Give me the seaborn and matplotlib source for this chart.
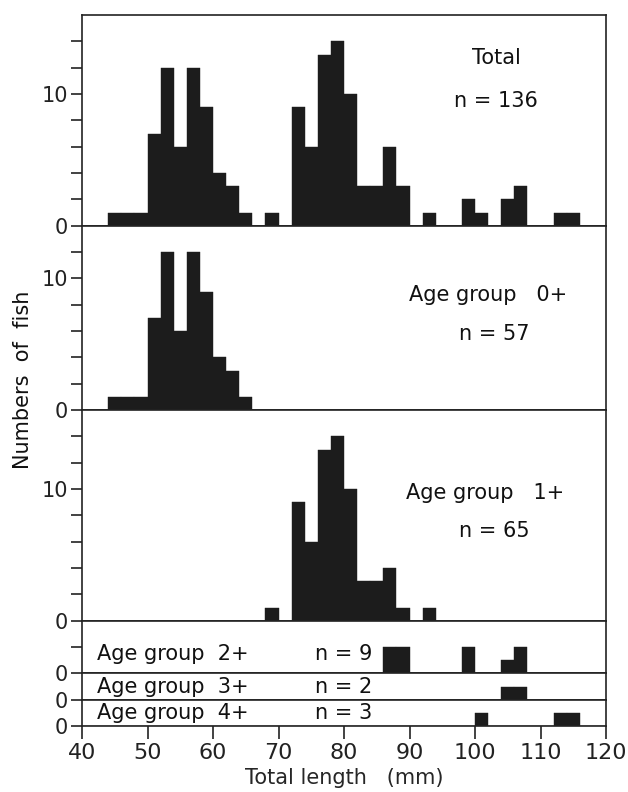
import numpy as np
import pandas as pd
import matplotlib
matplotlib.use("Agg")
import matplotlib.pyplot as plt
import seaborn as sns

# ---- data (bin start in mm, 2 mm bins) ----
total_start = [44, 46, 48, 50, 52, 54, 56, 58, 60, 62, 64, 68, 72, 74, 76, 78, 80, 82, 84, 86, 88, 92, 98, 100, 104, 106, 112, 114]
total_count = [1, 1, 1, 7, 12, 6, 12, 9, 4, 3, 1, 1, 9, 6, 13, 14, 10, 3, 3, 6, 3, 1, 2, 1, 2, 3, 1, 1]

age0_start = [44, 46, 48, 50, 52, 54, 56, 58, 60, 62, 64]
age0_count = [1, 1, 1, 7, 12, 6, 12, 9, 4, 3, 1]

age1_start = [68, 72, 74, 76, 78, 80, 82, 84, 86, 88, 92]
age1_count = [1, 9, 6, 13, 14, 10, 3, 3, 4, 1, 1]

age2_start = [86, 88, 98, 104, 106]
age2_count = [2, 2, 2, 1, 2]

age3_start = [104, 106]
age3_count = [1, 1]

age4_start = [100, 112, 114]
age4_count = [1, 1, 1]

bin_width = 2
x_ticks = [40, 50, 60, 70, 80, 90, 100, 110, 120]

sns.set_theme(style="ticks")
plt.rcParams["font.family"] = ["DejaVu Sans"]

fig = plt.figure(figsize=(6.28, 7.92), dpi=100)
ylims = [16, 14, 16, 4, 2, 2]
gs = fig.add_gridspec(6, 1, height_ratios=ylims, hspace=0,
                      left=0.1306, right=0.9650, top=0.981, bottom=0.0833)
axes = [fig.add_subplot(gs[i]) for i in range(6)]

groups = [
    (total_start, total_count),
    (age0_start, age0_count),
    (age1_start, age1_count),
    (age2_start, age2_count),
    (age3_start, age3_count),
    (age4_start, age4_count),
]
bar_color = "#1c1c1c"

for ax, (starts, counts), ylim in zip(axes, groups, ylims):
    df = pd.DataFrame({"mid": np.array(starts, dtype=float) + bin_width / 2,
                       "n": np.array(counts, dtype=float)})
    sns.histplot(data=df, x="mid", weights="n", binwidth=bin_width, binrange=(40, 120),
                 ax=ax, color=bar_color, alpha=1.0, edgecolor=bar_color, linewidth=0.3)
    ax.set_xlim(40, 120)
    ax.set_ylim(0, ylim)
    ax.set_ylabel("")
    ax.set_xlabel("")
    for s in ax.spines.values():
        s.set_visible(True)
        s.set_linewidth(1.2)
        s.set_color("#222222")
    ax.tick_params(axis="y", direction="out", length=8, width=1.2, pad=2,
                   labelsize=15, colors="#222222")
    ax.tick_params(axis="x", direction="out", length=9, width=1.2, colors="#222222")

# y ticks
def set_yticks(ax, maxv):
    ticks = list(range(0, maxv + 1, 2))
    ax.set_yticks(ticks)
    ax.set_yticklabels([str(t) if t in (0, 10) else "" for t in ticks])

set_yticks(axes[0], 14)
set_yticks(axes[1], 12)
set_yticks(axes[2], 14)
axes[3].set_yticks([0, 2])
axes[3].set_yticklabels(["0", ""])
axes[4].set_yticks([0])
axes[4].set_yticklabels(["0"])
axes[5].set_yticks([0])
axes[5].set_yticklabels(["0"])

# x ticks
for i, ax in enumerate(axes[:-1]):
    if i in (0, 1):
        ax.set_xticks(x_ticks[1:-1])
        ax.set_xticklabels([])
    else:
        ax.set_xticks([])
axes[-1].set_xticks(x_ticks)
axes[-1].set_xticklabels([str(t) for t in x_ticks])
axes[-1].tick_params(axis="x", labelsize=16, pad=3)
axes[-1].set_xlabel("Total length   (mm)", fontsize=15, labelpad=4)

# panel annotations
tk = dict(fontsize=15, color="#111111")
axes[0].text(103.2, 12.7, "Total", ha="center", va="center", **tk)
axes[0].text(103.2, 9.5, "n = 136", ha="center", va="center", **tk)
axes[1].text(102.0, 8.7, "Age group   0+", ha="center", va="center", **tk)
axes[1].text(103.0, 5.8, "n = 57", ha="center", va="center", **tk)
axes[2].text(101.6, 9.7, "Age group   1+", ha="center", va="center", **tk)
axes[2].text(103.0, 6.8, "n = 65", ha="center", va="center", **tk)
axes[3].text(42.3, 1.5, "Age group  2+", ha="left", va="center", **tk)
axes[3].text(75.5, 1.5, "n = 9", ha="left", va="center", **tk)
axes[4].text(42.3, 1.0, "Age group  3+", ha="left", va="center", clip_on=False, **tk)
axes[4].text(75.5, 1.0, "n = 2", ha="left", va="center", clip_on=False, **tk)
axes[5].text(42.3, 1.0, "Age group  4+", ha="left", va="center", clip_on=False, **tk)
axes[5].text(75.5, 1.0, "n = 3", ha="left", va="center", clip_on=False, **tk)

fig.text(23 / 628, 1 - 380 / 792, "Numbers  of  fish", rotation=90,
         ha="center", va="center", fontsize=15, color="#111111")

fig.savefig("out.png", dpi=100)
